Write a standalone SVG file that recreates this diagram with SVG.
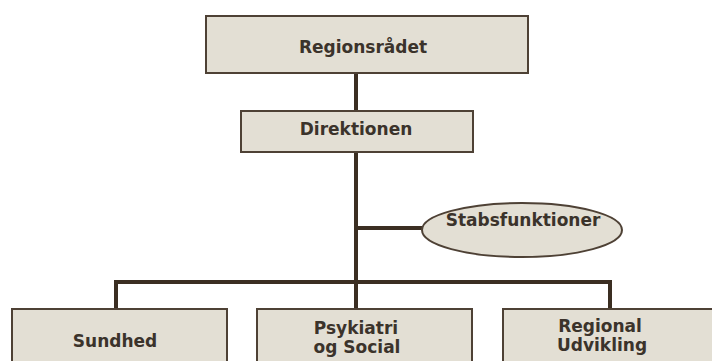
<svg xmlns="http://www.w3.org/2000/svg" width="712" height="361" viewBox="0 0 712 361">
<style>
.box{fill:#e3dfd4;stroke:#4e4135;stroke-width:2}
.t{font-family:"DejaVu Sans","Liberation Sans",sans-serif;font-weight:bold;font-size:17px;fill:#3b332b;text-anchor:middle}
.c{fill:none;stroke:#3b2e22;stroke-width:4}
</style>
<rect width="712" height="361" fill="#ffffff"/>
<g id="connectors">
<line class="c" x1="356" y1="73" x2="356" y2="110"/>
<line class="c" x1="356" y1="152" x2="356" y2="309"/>
<line class="c" x1="356" y1="228" x2="423" y2="228"/>
<polyline class="c" points="116,309 116,282 610,282 610,309"/>
</g>
<g id="regionsraadet">
<rect class="box" x="206" y="16" width="322" height="57"/>
<text class="t" x="363" y="53">Regionsrådet</text>
</g>
<g id="direktionen">
<rect class="box" x="241" y="111" width="232" height="41"/>
<text class="t" x="356" y="135">Direktionen</text>
</g>
<g id="stabsfunktioner">
<ellipse class="box" cx="522" cy="230" rx="100" ry="27"/>
<text class="t" x="523" y="226">Stabsfunktioner</text>
</g>
<g id="sundhed">
<rect class="box" x="12" y="309" width="215" height="60"/>
<text class="t" x="115" y="347">Sundhed</text>
</g>
<g id="psykiatri">
<rect class="box" x="257" y="309" width="215" height="60"/>
<text class="t" x="356" y="334">Psykiatri</text>
<text class="t" x="357" y="353">og Social</text>
</g>
<g id="regional">
<rect class="box" x="503" y="309" width="215" height="60"/>
<text class="t" x="600" y="332">Regional</text>
<text class="t" x="602" y="351">Udvikling</text>
</g>
</svg>
